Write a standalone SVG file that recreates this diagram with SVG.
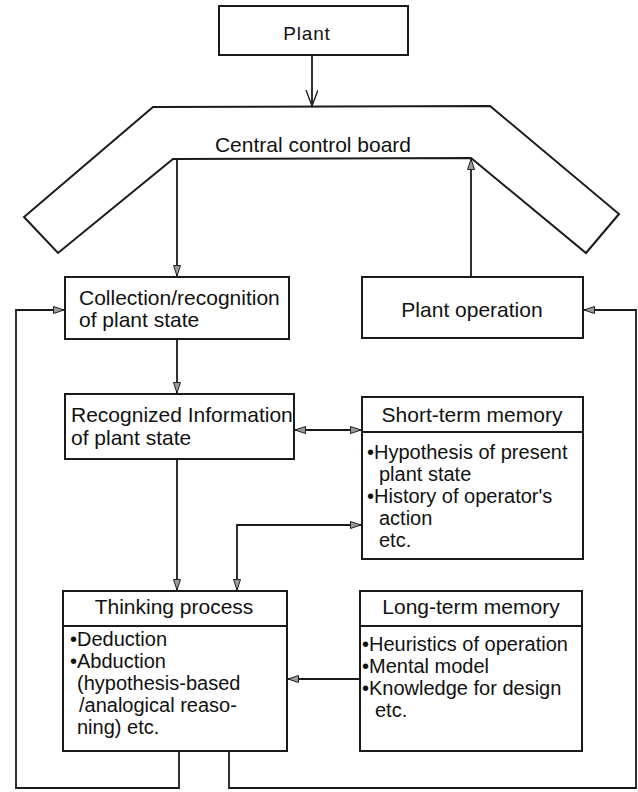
<svg xmlns="http://www.w3.org/2000/svg" width="638" height="792" viewBox="0 0 638 792">
  <style>
    .box { fill: #fff; stroke: #1a1a1a; stroke-width: 2; }
    .sep { stroke: #1a1a1a; stroke-width: 2; fill: none; }
    .wire { stroke: #1a1a1a; stroke-width: 1.8; fill: none; }
    text { font-family: "Liberation Sans", Arial, Helvetica, sans-serif; font-size: 20px; fill: #111; }
    .mid { text-anchor: middle; }
  </style>
  <defs>
    <marker id="tri" markerUnits="userSpaceOnUse" markerWidth="12" markerHeight="10" refX="11" refY="4" orient="auto-start-reverse">
      <path d="M0.5,0.5 L11,4 L0.5,7.5 z" fill="#9a9a9a" stroke="#222" stroke-width="1"/>
    </marker>
    <marker id="vee" markerUnits="userSpaceOnUse" markerWidth="18" markerHeight="14" refX="16" refY="6" orient="auto">
      <path d="M0,0 L16,6 L0,12" fill="none" stroke="#222" stroke-width="1.4"/>
    </marker>
  </defs>

  <!-- Plant -->
  <g id="plant">
    <rect class="box" x="219" y="6" width="189" height="49"/>
    <text class="mid" x="307" y="40" style="font-size:19px;letter-spacing:0.8px">Plant</text>
  </g>

  <!-- Central control board: bent panel outline -->
  <g id="board">
    <polygon class="box" points="153,107 490,106 619,214 586,253 471,158 173,159 58,253 24,217"/>
    <text class="mid" x="313" y="152" style="font-size:21px">Central control board</text>
  </g>

  <!-- Collection / recognition -->
  <g id="collection">
    <rect class="box" x="65" y="277" width="224" height="62"/>
    <text x="79" y="305" style="font-size:21px">Collection/recognition</text>
    <text x="79" y="327" style="font-size:21px">of plant state</text>
  </g>

  <!-- Plant operation -->
  <g id="operation">
    <rect class="box" x="362" y="277" width="221" height="61"/>
    <text class="mid" x="472" y="317" style="font-size:21px">Plant operation</text>
  </g>

  <!-- Recognized information -->
  <g id="recognized">
    <rect class="box" x="65" y="394" width="229" height="65"/>
    <text x="71" y="422" style="font-size:21px">Recognized Information</text>
    <text x="71" y="445" style="font-size:21px">of plant state</text>
  </g>

  <!-- Short-term memory -->
  <g id="short-term">
    <rect class="box" x="362" y="397" width="221" height="162"/>
    <line class="sep" x1="362" y1="432" x2="583" y2="432"/>
    <text class="mid" x="472" y="422" style="font-size:21px">Short-term memory</text>
    <text x="367" y="459">•Hypothesis of present</text>
    <text x="379" y="481">plant state</text>
    <text x="367" y="503">•History of operator's</text>
    <text x="379" y="525">action</text>
    <text x="379" y="547">etc.</text>
  </g>

  <!-- Thinking process -->
  <g id="thinking">
    <rect class="box" x="63" y="591" width="224" height="160"/>
    <line class="sep" x1="63" y1="626" x2="287" y2="626"/>
    <text class="mid" x="174" y="614" style="font-size:21px">Thinking process</text>
    <text x="70" y="646">•Deduction</text>
    <text x="70" y="668">•Abduction</text>
    <text x="77" y="690">(hypothesis-based</text>
    <text x="79" y="712">/analogical reaso-</text>
    <text x="77" y="734">ning) etc.</text>
  </g>

  <!-- Long-term memory -->
  <g id="long-term">
    <rect class="box" x="360" y="591" width="222" height="160"/>
    <line class="sep" x1="360" y1="626" x2="582" y2="626"/>
    <text class="mid" x="471" y="614" style="font-size:21px">Long-term memory</text>
    <text x="362" y="651">•Heuristics of operation</text>
    <text x="362" y="673">•Mental model</text>
    <text x="362" y="695">•Knowledge for design</text>
    <text x="375" y="717">etc.</text>
  </g>

  <!-- Connectors -->
  <g id="connectors">
    <line class="wire" x1="312" y1="55" x2="312" y2="106" marker-end="url(#vee)"/>
    <line class="wire" x1="177" y1="159" x2="177" y2="276" marker-end="url(#tri)"/>
    <line class="wire" x1="471" y1="277" x2="471" y2="159" marker-end="url(#tri)"/>
    <line class="wire" x1="177" y1="339" x2="177" y2="393" marker-end="url(#tri)"/>
    <line class="wire" x1="295" y1="430" x2="361" y2="430" marker-start="url(#tri)" marker-end="url(#tri)"/>
    <line class="wire" x1="177" y1="459" x2="177" y2="590" marker-end="url(#tri)"/>
    <polyline class="wire" points="237,590 237,525 361,525" marker-start="url(#tri)" marker-end="url(#tri)"/>
    <line class="wire" x1="360" y1="679" x2="288" y2="679" marker-end="url(#tri)"/>
    <polyline class="wire" points="179,751 179,788 16,788 16,310 64,310" marker-end="url(#tri)"/>
    <polyline class="wire" points="229,751 229,788 636,788 636,310 584,310" marker-end="url(#tri)"/>
  </g>
</svg>
